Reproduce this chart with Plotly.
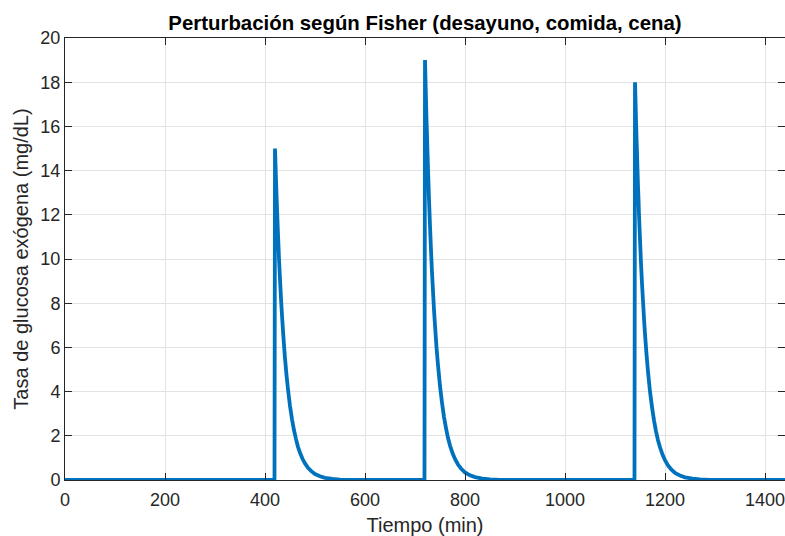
import plotly.graph_objects as go

# Meal disturbance (Fisher model): breakfast, lunch, dinner
meal_times = [420, 720, 1140]          # min
meal_names = ["desayuno", "comida", "cena"]

# minutes elapsed after each meal at which the decay is sampled
decay_offsets = [0, 1, 2, 3, 4, 5, 6, 7, 8, 10, 12, 14, 16, 18, 20, 23, 26, 30, 34, 38,
                 42, 46, 50, 55, 60, 66, 72, 80, 90, 100, 115, 130, 150]

# exogenous glucose rate (mg/dL) after each meal
desayuno_vals = [15.0, 14.3, 13.6, 12.9, 12.3, 11.7, 11.1, 10.6, 10.0, 9.1, 8.2, 7.45, 6.75, 6.1,
                 5.5, 4.75, 4.1, 3.35, 2.75, 2.25, 1.85, 1.5, 1.23, 0.96, 0.75, 0.55, 0.41, 0.27,
                 0.17, 0.1, 0.05, 0.02, 0.01]
comida_vals = [19.0, 18.1, 17.2, 16.3, 15.6, 14.8, 14.1, 13.4, 12.7, 11.5, 10.4, 9.4, 8.55, 7.7,
               7.0, 6.0, 5.2, 4.25, 3.5, 2.85, 2.35, 1.9, 1.56, 1.22, 0.95, 0.7, 0.52, 0.34,
               0.21, 0.13, 0.06, 0.03, 0.01]
cena_vals = [18.0, 17.2, 16.3, 15.5, 14.8, 14.0, 13.3, 12.7, 12.0, 10.9, 9.8, 8.9, 8.1, 7.3,
             6.6, 5.7, 4.9, 4.0, 3.3, 2.7, 2.2, 1.8, 1.48, 1.15, 0.9, 0.66, 0.49, 0.32,
             0.2, 0.12, 0.06, 0.03, 0.01]

t_start, t_end = 0, 1440
x_ticks = [0, 200, 400, 600, 800, 1000, 1200, 1400]
y_ticks = [0, 2, 4, 6, 8, 10, 12, 14, 16, 18, 20]

# assemble the piecewise signal: zero before each meal, jump, then decay
t, d = [t_start], [0.0]
for t0, vals in zip(meal_times, [desayuno_vals, comida_vals, cena_vals]):
    t.append(t0 - 1)
    d.append(0.0)
    for off, v in zip(decay_offsets, vals):
        t.append(t0 + off)
        d.append(v)
t.append(t_end)
d.append(0.0)

fig = go.Figure()
fig.add_trace(go.Scatter(
    x=t, y=d, mode="lines",
    line=dict(color="#0072BD", width=3.8, simplify=False),
    cliponaxis=False, showlegend=False,
))

axis_color = "#262626"
grid_color = "#e3e3e3"
font_family = "Liberation Sans, Arial, Helvetica, sans-serif"

fig.update_layout(
    width=785, height=536,
    margin=dict(l=65, r=0, t=38, b=56),
    paper_bgcolor="white", plot_bgcolor="white",
    font=dict(family=font_family, size=18, color=axis_color),
    title=dict(
        text="<b>Perturbación según Fisher (desayuno, comida, cena)</b>",
        font=dict(size=20.4, color="black", family=font_family),
        x=425 / 785, xanchor="center", xref="container",
        y=1 - 23 / 536, yanchor="middle", yref="container",
    ),
)

fig.update_xaxes(
    range=[t_start, t_end], tickvals=x_ticks, ticklabeloverflow="allow",
    showline=True, linecolor=axis_color, linewidth=1, mirror="ticks",
    ticks="inside", ticklen=7, tickcolor=axis_color, tickwidth=1,
    showgrid=True, gridcolor=grid_color, gridwidth=1, zeroline=False,
    tickfont=dict(size=18, color=axis_color), ticklabelstandoff=3,
    title=dict(text="Tiempo (min)", font=dict(size=20, color=axis_color), standoff=12),
)
fig.update_yaxes(
    range=[0, 20], tickvals=y_ticks,
    showline=True, linecolor=axis_color, linewidth=1, mirror="ticks",
    ticks="inside", ticklen=7, tickcolor=axis_color, tickwidth=1,
    showgrid=True, gridcolor=grid_color, gridwidth=1, zeroline=False,
    tickfont=dict(size=18, color=axis_color),
    title=dict(text="Tasa de glucosa exógena (mg/dL)", font=dict(size=20, color=axis_color), standoff=6),
)

fig.write_html("out.html")
